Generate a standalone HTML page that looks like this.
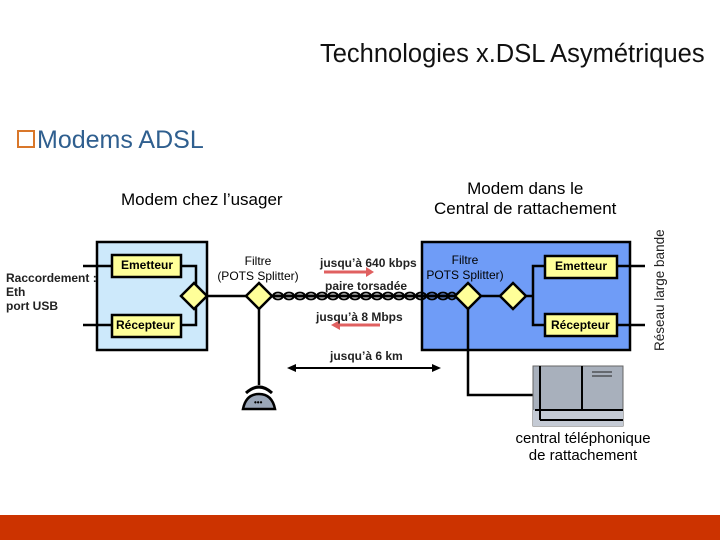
<!DOCTYPE html>
<html><head><meta charset="utf-8"><style>
body{margin:0;width:720px;height:540px;background:#fff;overflow:hidden;position:relative;font-family:"Liberation Sans",sans-serif}
.t{position:absolute;white-space:nowrap}
</style></head><body>
<div class="t" style="left:320px;top:40px;font-size:25.5px;color:#111">Technologies x.DSL Asymétriques</div>
<div class="t" style="left:17px;top:126px;font-size:25px;color:#2f5f8f"><span style="display:inline-block;width:14px;height:14px;border:2px solid #d9772a;margin-right:2px;vertical-align:0px"></span>Modems ADSL</div>
<div class="t" style="left:121px;top:190px;font-size:17px">Modem chez l’usager</div>
<div class="t" style="left:434px;top:179px;font-size:17px;text-align:center;line-height:20px">Modem dans le<br>Central de rattachement</div>
<div class="t" style="left:6px;top:271px;font-size:12px;line-height:14px;font-weight:bold;color:#222">Raccordement :<br>Eth<br>port USB</div>
<svg width="720" height="540" style="position:absolute;left:0;top:0">
<rect x="97" y="242" width="110" height="108" fill="#cde9fb" stroke="#000" stroke-width="2.5"/>
<rect x="422" y="242" width="208" height="108" fill="#6f9cf7" stroke="#000" stroke-width="2.5"/>
<g stroke="#000" stroke-width="2.5" fill="none">
<path d="M83 266H112M83 325H112M181 266H196V325H181"/>
<path d="M207 296H246M272 296H300"/>
<path d="M259 309V385M468 309V395H533"/>
<path d="M481 296H500M526 296H533V266H545M533 296V325H545M617 266H645M617 325H645"/>
<path d="M272 296H455" stroke-width="3"/>
</g>
<g fill="none" stroke="#000" stroke-width="1.8">
<ellipse cx="278" cy="296" rx="5" ry="3.5"/><ellipse cx="289" cy="296" rx="5" ry="3.5"/><ellipse cx="300" cy="296" rx="5" ry="3.5"/><ellipse cx="311" cy="296" rx="5" ry="3.5"/><ellipse cx="322" cy="296" rx="5" ry="3.5"/><ellipse cx="333" cy="296" rx="5" ry="3.5"/><ellipse cx="344" cy="296" rx="5" ry="3.5"/><ellipse cx="355" cy="296" rx="5" ry="3.5"/><ellipse cx="366" cy="296" rx="5" ry="3.5"/><ellipse cx="377" cy="296" rx="5" ry="3.5"/><ellipse cx="388" cy="296" rx="5" ry="3.5"/><ellipse cx="399" cy="296" rx="5" ry="3.5"/><ellipse cx="410" cy="296" rx="5" ry="3.5"/><ellipse cx="421" cy="296" rx="5" ry="3.5"/><ellipse cx="432" cy="296" rx="5" ry="3.5"/><ellipse cx="443" cy="296" rx="5" ry="3.5"/><ellipse cx="452" cy="296" rx="4" ry="3.5"/>
</g>
<g fill="#ffff99" stroke="#000" stroke-width="2.5">
<rect x="112" y="255" width="69" height="22"/><rect x="112" y="315" width="69" height="22"/>
<rect x="545" y="256" width="72" height="22"/><rect x="545" y="314" width="72" height="22"/>
<path d="M194 283L207 296L194 309L181 296Z"/><path d="M259 283L272 296L259 309L246 296Z"/>
<path d="M468 283L481 296L468 309L455 296Z"/><path d="M513 283L526 296L513 309L500 296Z"/>
</g>
<g stroke="#e06060" stroke-width="3" fill="#e06060">
<path d="M324 272H368"/><path d="M366 267L374 272L366 277Z" stroke="none"/>
<path d="M338 325H380"/><path d="M340 320L331 325L340 330Z" stroke="none"/>
</g>
<g stroke="#000" stroke-width="2" fill="#000">
<path d="M292 368H436"/><path d="M296 364L287 368L296 372Z" stroke="none"/><path d="M432 364L441 368L432 372Z" stroke="none"/>
</g>
<rect x="533" y="366" width="90" height="60" fill="#a8b0bc" stroke="#666"/>
<rect x="533" y="410" width="90" height="16" fill="#c4cad4"/>
<path d="M540 366V420M582 366V410M535 410H623M540 420H623" stroke="#000" stroke-width="2"/>
<path d="M592 372H612M592 376H612" stroke="#222" stroke-width="1"/>
<path d="M246 393Q259 381 272 393" stroke="#000" stroke-width="3" fill="none"/>
<path d="M243 409Q246 394 259 394Q272 394 275 409Z" fill="#9aa6b8" stroke="#000" stroke-width="2.5"/>
<text x="254" y="405" font-size="8" font-weight="bold" fill="#000">•••</text>
<text transform="translate(664,351) rotate(-90)" font-size="13.5" font-family="Liberation Sans" fill="#222">Réseau large bande</text>
</svg>
<div class="t" style="left:121px;top:258px;font-size:12px;font-weight:bold">Emetteur</div>
<div class="t" style="left:116px;top:318px;font-size:12px;font-weight:bold">Récepteur</div>
<div class="t" style="left:555px;top:259px;font-size:12px;font-weight:bold">Emetteur</div>
<div class="t" style="left:551px;top:318px;font-size:12px;font-weight:bold">Récepteur</div>
<div class="t" style="left:214px;top:254px;width:88px;text-align:center;font-size:12px;line-height:15px">Filtre<br>(POTS Splitter)</div>
<div class="t" style="left:420px;top:253px;width:90px;text-align:center;font-size:12px;line-height:15px">Filtre<br>POTS Splitter)</div>
<div class="t" style="left:320px;top:256px;font-size:12px;font-weight:bold;color:#222">jusqu’à 640 kbps</div>
<div class="t" style="left:325px;top:279px;font-size:12px;font-weight:bold;color:#222">paire torsadée</div>
<div class="t" style="left:316px;top:310px;font-size:12px;font-weight:bold;color:#222">jusqu’à 8 Mbps</div>
<div class="t" style="left:330px;top:349px;font-size:12px;font-weight:bold;color:#222">jusqu’à 6 km</div>
<div class="t" style="left:508px;top:430px;width:150px;text-align:center;font-size:15px;line-height:17px">central téléphonique<br>de rattachement</div>
<div style="position:absolute;left:0;top:515px;width:720px;height:25px;background:#cc3300"></div>
</body></html>
